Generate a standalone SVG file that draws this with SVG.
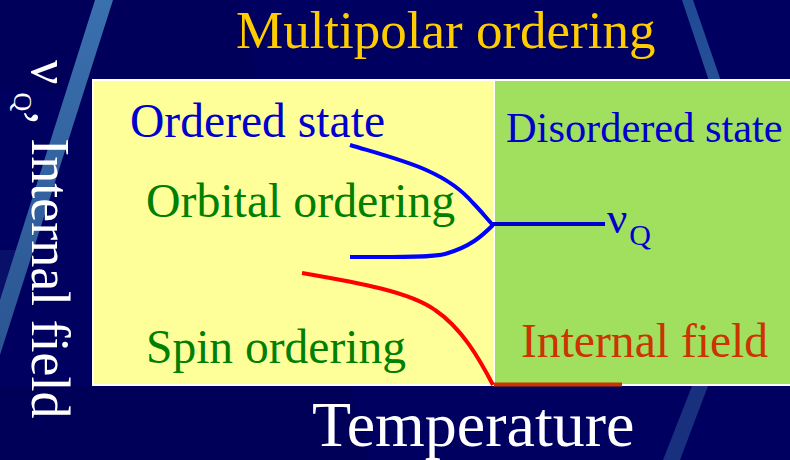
<svg xmlns="http://www.w3.org/2000/svg" width="790" height="460" viewBox="0 0 790 460">
  <defs>
    <linearGradient id="stripeL" x1="0" y1="0" x2="0" y2="1">
      <stop offset="0" stop-color="#3a70ae"/>
      <stop offset="1" stop-color="#2b5592"/>
    </linearGradient>
    <linearGradient id="stripeR" x1="0" y1="0" x2="0" y2="1">
      <stop offset="0" stop-color="#1f4a94"/>
      <stop offset="1" stop-color="#264f96"/>
    </linearGradient>
    <style>
      .serif { font-family: "Liberation Serif", "Times New Roman", serif; }
      .panel { stroke: #ffffff; stroke-width: 2; }
      .curve { fill: none; stroke-width: 4; stroke-linecap: butt; }
      .blue { fill: #0000cc; }
      .green { fill: #008000; }
    </style>
  </defs>

  <!-- background -->
  <rect x="0" y="0" width="790" height="460" fill="#000060"/>
  <polygon points="0,0 237,0 262,90 0,90" fill="#00005a"/>
  <polygon points="0,386 350,386 370,460 0,460" fill="#000058"/>
  <polygon points="0,250 24,250 0,320" fill="#1a2f7a" opacity="0.35"/>
  <polygon points="95,0 113,0 0,355 0,300" fill="url(#stripeL)"/>
  <polygon points="682,0 693,0 722,84 710,84" fill="url(#stripeR)"/>
  <polygon points="692,386 708,386 680,460 663,460" fill="#18307e"/>

  <!-- plot panels -->
  <g id="ordered-region">
    <rect class="panel" x="93" y="80" width="401" height="305" fill="#ffff99"/>
  </g>
  <g id="disordered-region">
    <rect class="panel" x="494" y="80" width="300" height="305" fill="#a0e05e"/>
  </g>

  <!-- curves -->
  <g id="connectors">
    <path class="curve" stroke="#0000ff" d="M350,145 C400,160 445,170 473,203 C482,212 487,219 493,225"/>
    <path class="curve" stroke="#0000ff" d="M350,257 C390,257 430,258 445,254 C470,247 482,236 493,225"/>
    <line class="curve" stroke="#0000cc" x1="493" y1="224" x2="605" y2="224"/>
    <path class="curve" stroke="#ff0000" d="M302,273 C360,283 410,292 435,310 C462,328 480,360 493,385"/>
    <line class="curve" stroke="#cc3300" stroke-width="5" x1="494" y1="384.5" x2="622" y2="384.5"/>
  </g>

  <!-- labels -->
  <g id="title">
    <text class="serif" x="236" y="48" font-size="53" fill="#ffcc00">Multipolar ordering</text>
  </g>
  <g id="label-ordered">
    <text class="serif blue" x="130" y="137" font-size="47.6">Ordered state</text>
  </g>
  <g id="label-orbital">
    <text class="serif green" x="146" y="217" font-size="47.8">Orbital ordering</text>
  </g>
  <g id="label-spin">
    <text class="serif green" x="146" y="363" font-size="47.5">Spin ordering</text>
  </g>
  <g id="label-disordered">
    <text class="serif blue" x="506" y="142" font-size="42.4">Disordered state</text>
  </g>
  <g id="label-internal">
    <text class="serif" x="521" y="357" font-size="47.6" fill="#cc3300">Internal field</text>
  </g>
  <g id="label-nuq">
    <text class="serif blue" x="607" y="233" font-size="45">ν<tspan font-size="30" dx="2" dy="12">Q</tspan></text>
  </g>
  <g id="axis-x">
    <text class="serif" x="312" y="446" font-size="64" fill="#ffffff">Temperature</text>
  </g>
  <g id="axis-y">
    <text class="serif" transform="translate(32,60) rotate(90)" font-size="54" fill="#ffffff">ν<tspan font-size="26" dx="8" dy="18">Q</tspan><tspan dy="-18">, Internal field</tspan></text>
  </g>
</svg>
